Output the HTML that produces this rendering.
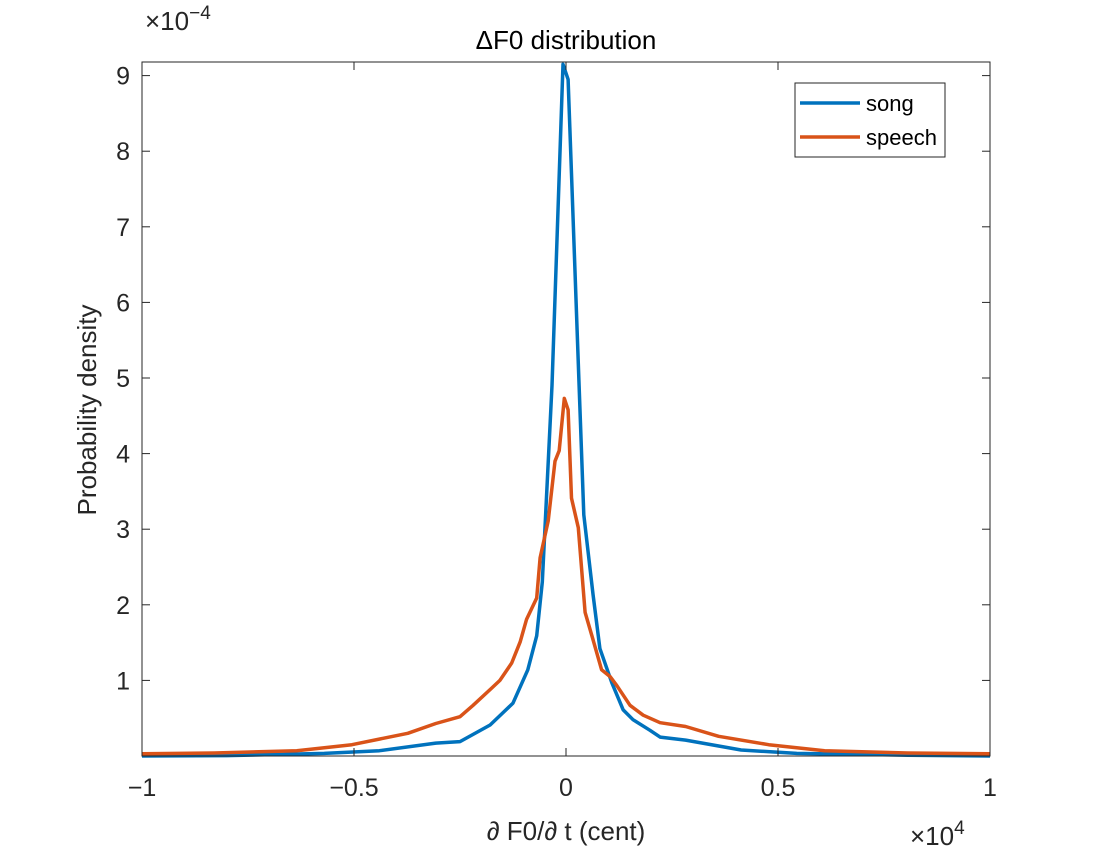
<!DOCTYPE html>
<html><head><meta charset="utf-8"><style>
body{margin:0;background:#fff;}
svg{display:block;font-family:"Liberation Sans","Noto Sans CJK JP",sans-serif;}
</style></head><body>
<svg id="chart" width="1094" height="859">
<rect x="0" y="0" width="1094" height="859" fill="#fff"/>
<g id="plot"></g>
</svg>
<script>
const xTicks=[-1,-0.5,0,0.5,1];
const xTickLabels=["\u22121","\u22120.5","0","0.5","1"];
const yTicks=[1,2,3,4,5,6,7,8,9];
const yTickLabels=["1","2","3","4","5","6","7","8","9"];
const songX=[-1,-0.8,-0.57,-0.44,-0.307,-0.25,-0.179,-0.149,-0.125,-0.09,-0.069,-0.056,-0.033,-0.007,0.005,0.031,0.042,0.064,0.08,0.108,0.135,0.158,0.198,0.222,0.282,0.413,0.544,0.806,1];
const songY=[0,0.005,0.035,0.07,0.17,0.19,0.41,0.57,0.70,1.14,1.59,2.3,4.9,9.15,8.95,4.9,3.19,2.13,1.42,0.97,0.61,0.48,0.34,0.25,0.21,0.08,0.035,0.01,0];
const speechX=[-1,-0.83,-0.635,-0.505,-0.373,-0.307,-0.25,-0.219,-0.175,-0.156,-0.128,-0.108,-0.093,-0.069,-0.061,-0.042,-0.026,-0.016,-0.004,0.005,0.013,0.029,0.045,0.061,0.084,0.104,0.12,0.151,0.182,0.222,0.282,0.36,0.478,0.61,0.806,1];
const speechY=[0.03,0.04,0.07,0.15,0.3,0.43,0.52,0.67,0.9,1.0,1.23,1.51,1.81,2.09,2.62,3.11,3.9,4.04,4.73,4.58,3.41,3.02,1.9,1.59,1.14,1.05,0.93,0.67,0.54,0.44,0.39,0.26,0.15,0.07,0.04,0.03];
const X0=142,X1=990,Y0=756,YT=62,ymax=9.18;
const sx=v=>X0+(v+1)/2*(X1-X0);
const sy=v=>Y0-v/ymax*(Y0-YT);
const NS="http://www.w3.org/2000/svg";
const g=document.getElementById('plot');
function mk(t,a,txt){const e=document.createElementNS(NS,t);for(const k in a)e.setAttribute(k,a[k]);if(txt!==undefined)e.textContent=txt;g.appendChild(e);return e;}
function line(xs,ys,color,name){
 const d=xs.map((x,i)=>(i?'L':'M')+sx(x).toFixed(1)+','+sy(ys[i]).toFixed(1)).join(' ');
 const p=mk('path',{d:d,fill:'none',stroke:color,'stroke-width':3.5,'stroke-linejoin':'round'});
 
 
}
line(songX,songY,'#0072BD','song-line');
line(speechX,speechY,'#D95319','speech-line');
const box=mk('rect',{x:X0,y:YT,width:X1-X0,height:Y0-YT,fill:'none',stroke:'#262626','stroke-width':1});


xTicks.forEach((v,i)=>{
 const x=sx(v);
 mk('line',{x1:x,y1:Y0,x2:x,y2:Y0-8,stroke:'#262626'});
 mk('line',{x1:x,y1:YT,x2:x,y2:YT+8,stroke:'#262626'});
 const t=mk('text',{x:x,y:Y0+40,'text-anchor':'middle','font-size':25,fill:'#262626'},xTickLabels[i]);
 
 
});
yTicks.forEach((v,i)=>{
 const y=sy(v);
 mk('line',{x1:X0,y1:y,x2:X0+8,y2:y,stroke:'#262626'});
 mk('line',{x1:X1,y1:y,x2:X1-8,y2:y,stroke:'#262626'});
 const t=mk('text',{x:X0-12,y:y+9,'text-anchor':'end','font-size':25,fill:'#262626'},yTickLabels[i]);
 
 
});
</script>
<svg width="1094" height="859" style="position:absolute;left:0;top:0">
<text x="566" y="49" text-anchor="middle" font-size="26" fill="#000" font-family="Liberation Sans,sans-serif">ΔF0 distribution</text>
<text x="145" y="30" font-size="26" fill="#262626" font-family="Liberation Sans,sans-serif">×10<tspan dy="-11" font-size="19">−4</tspan></text>
<text x="910" y="845" font-size="26" fill="#262626" font-family="Liberation Sans,sans-serif">×10<tspan dy="-11" font-size="19">4</tspan></text>
<text x="566" y="840" text-anchor="middle" font-size="26" fill="#262626" font-family="Liberation Sans,sans-serif">∂ F0/∂ t (cent)</text>
<text transform="translate(96,410) rotate(-90)" text-anchor="middle" font-size="26" fill="#262626" font-family="Liberation Sans,sans-serif">Probability density</text>
<g>
<rect x="795" y="83" width="150" height="74" fill="#fff" stroke="#262626" stroke-width="1"/>
<line x1="800" y1="103" x2="860" y2="103" stroke="#0072BD" stroke-width="3.5"/>
<text x="866" y="111" font-size="22" fill="#000" font-family="Liberation Sans,sans-serif">song</text>
<line x1="800" y1="137" x2="860" y2="137" stroke="#D95319" stroke-width="3.5"/>
<text x="866" y="145" font-size="22" fill="#000" font-family="Liberation Sans,sans-serif">speech</text>
</g>
</svg>
</body></html>
